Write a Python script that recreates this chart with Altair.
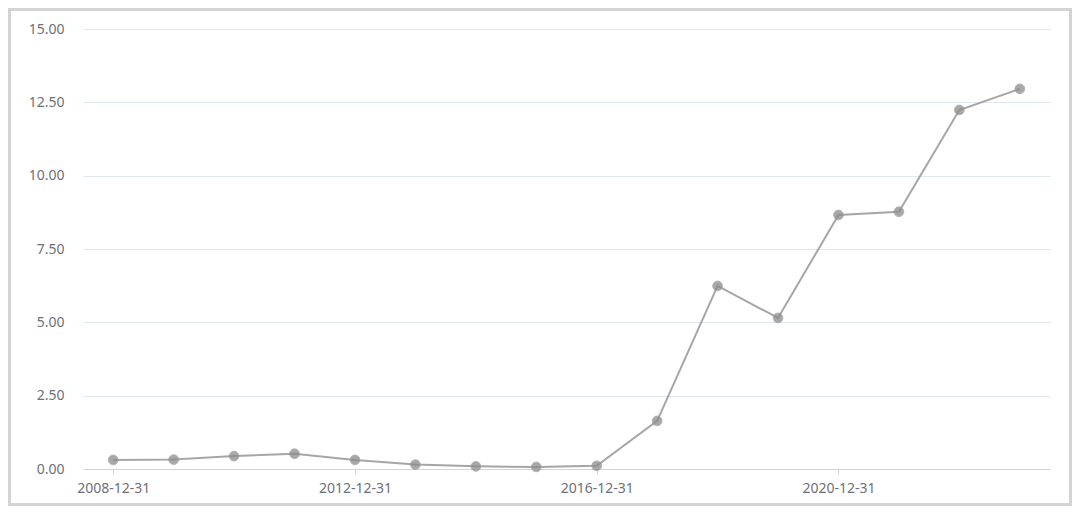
import altair as alt
import pandas as pd

dates = ["2008-12-31", "2009-12-31", "2010-12-31", "2011-12-31", "2012-12-31",
         "2013-12-31", "2014-12-31", "2015-12-31", "2016-12-31", "2017-12-31",
         "2018-12-31", "2019-12-31", "2020-12-31", "2021-12-31", "2022-12-31",
         "2023-12-31"]
values = [0.31, 0.32, 0.44, 0.52, 0.31, 0.15, 0.09, 0.07, 0.11, 1.64,
          6.24, 5.15, 8.66, 8.77, 12.24, 12.96]
tick_labels = ["2008-12-31", "2012-12-31", "2016-12-31", "2020-12-31"]
y_ticks = [0, 2.5, 5, 7.5, 10, 12.5, 15]

df = pd.DataFrame({"date": dates, "value": values})

FONT = "Noto Sans"
LABEL_COLOR = "#6E7079"

x_enc = alt.X("date:O", sort=dates,
              scale=alt.Scale(type="point", padding=0.5),
              axis=alt.Axis(values=tick_labels, labelAngle=0, title=None,
                            domainColor="#cfd4e3", tickColor="#cfd4e3",
                            tickSize=5, labelPadding=7, labelFontSize=14,
                            labelColor=LABEL_COLOR, labelFont=FONT, grid=False))
y_enc = alt.Y("value:Q",
              scale=alt.Scale(domain=[0, 15], nice=False),
              axis=alt.Axis(values=y_ticks, format=".2f", title=None,
                            domain=False, ticks=False, labelPadding=19,
                            labelFontSize=14, labelColor=LABEL_COLOR, labelFont=FONT,
                            grid=True, gridColor="#E0E6F1", gridWidth=1))

base = alt.Chart(df)
line = base.mark_line(color="#a6a6a6", strokeWidth=2).encode(x=x_enc, y=y_enc)
pts = base.mark_point(filled=True, size=95, color="#8c8c8c", opacity=0.75,
                      stroke="#9a9a9a", strokeWidth=1).encode(x=x_enc, y=y_enc)

border = alt.Chart(pd.DataFrame({"a": [0]})).mark_rect(
    fill=None, stroke="#d4d4d4", strokeWidth=3
).encode(x=alt.value(-73.5), x2=alt.value(987.5), y=alt.value(-19.5), y2=alt.value(475.5))

chart = alt.layer(line, pts, border).properties(
    width=967, height=440,
    autosize=alt.AutoSizeParams(type="none"),
    padding={"left": 75, "top": 21, "right": 22, "bottom": 38},
    background="white",
).configure_view(stroke=None)

chart.save("out.html", embed_options={"renderer": "svg", "actions": False})
